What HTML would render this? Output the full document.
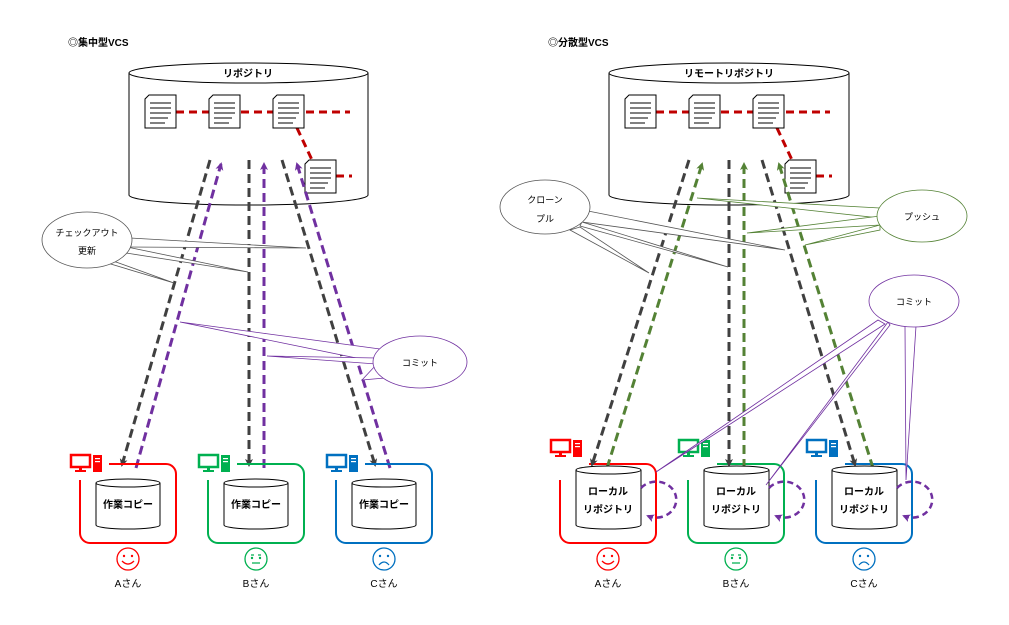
<!DOCTYPE html>
<html><head><meta charset="utf-8"><style>
html,body{margin:0;padding:0;background:#fff;}
svg{display:block;font-family:"Liberation Sans","Noto Sans CJK JP",sans-serif;}
</style></head><body>
<svg width="1009" height="625" viewBox="0 0 1009 625" xmlns="http://www.w3.org/2000/svg">
<defs>
<marker id="ak" markerWidth="8" markerHeight="8" refX="6" refY="4" orient="auto" markerUnits="userSpaceOnUse"><path d="M0,0 L8,4 L0,8 L2,4 z" fill="#404040"/></marker>
<marker id="ap" markerWidth="8" markerHeight="8" refX="6" refY="4" orient="auto" markerUnits="userSpaceOnUse"><path d="M0,0 L8,4 L0,8 L2,4 z" fill="#7030a0"/></marker>
<marker id="ag" markerWidth="8" markerHeight="8" refX="6" refY="4" orient="auto" markerUnits="userSpaceOnUse"><path d="M0,0 L8,4 L0,8 L2,4 z" fill="#548235"/></marker>
<g id="doc"><path d="M4,0 H31 V33 H0 V4 Z" fill="#fff" stroke="#000" stroke-width="1"/><path d="M5,8H26M5,13H26M5,18H26M5,23H23M5,28H20" stroke="#000" stroke-width="1"/></g>
<g id="pc"><rect x="0" y="0" width="19" height="12" fill="none" stroke="currentColor" stroke-width="2.5"/><rect x="8" y="12" width="3" height="3" fill="currentColor"/><rect x="4" y="15" width="11" height="2" fill="currentColor"/><rect x="22" y="0" width="9" height="17" fill="currentColor"/><rect x="24" y="3" width="5" height="1.2" fill="#fff"/><rect x="24" y="6" width="5" height="1.2" fill="#fff"/></g>
</defs>
<style>text{font-size:10px;fill:#000}.b{font-weight:bold}</style>

<!-- LEFT -->
<text x="68" y="46" class="b">◎集中型VCS</text>
<path d="M129,73 V195 A119.5,10 0 0 0 368,195 V73" fill="#fff" stroke="#000"/>
<ellipse cx="248.5" cy="73" rx="119.5" ry="10" fill="#fff" stroke="#000"/>
<text x="248" y="77" text-anchor="middle" class="b">リポジトリ</text>
<g stroke="#c00000" stroke-width="3" stroke-dasharray="8,5" fill="none">
<path d="M176,112H350"/><path d="M297,128L312,160"/><path d="M336,176H352"/></g>
<use href="#doc" x="145" y="95"/><use href="#doc" x="209" y="95"/><use href="#doc" x="273" y="95"/><use href="#doc" x="305" y="160"/>
<g stroke-width="3" stroke-dasharray="9,5" fill="none">
<path d="M210,160L122,465" stroke="#404040" marker-end="url(#ak)"/>
<path d="M136,468L221,164" stroke="#7030a0" marker-end="url(#ap)"/>
<path d="M249,160V465" stroke="#404040" marker-end="url(#ak)"/>
<path d="M264,468V164" stroke="#7030a0" marker-end="url(#ap)"/>
<path d="M282,160L375,465" stroke="#404040" marker-end="url(#ak)"/>
<path d="M390,468L297,164" stroke="#7030a0" marker-end="url(#ap)"/>
</g>
<!-- callouts left -->
<g fill="#fff" stroke="#555" stroke-width="0.8">
<path d="M130,238L306,248L126,247Z"/><path d="M127,247L248,272L126,253Z"/><path d="M116,262L174,283L104,262Z"/>
<ellipse cx="87" cy="240" rx="45" ry="28"/>
</g>
<text x="87" y="236" text-anchor="middle" style="font-size:9px">チェックアウト</text>
<text x="87" y="254" text-anchor="middle" style="font-size:9px">更新</text>
<g fill="#fff" stroke="#7030a0" stroke-width="0.8">
<path d="M380,349L180,322L376,362Z"/><path d="M376,358L267,356L376,364Z"/><path d="M376,365L362,380L385,378Z"/>
<ellipse cx="420" cy="362" rx="47" ry="26"/>
</g>
<text x="420" y="366" text-anchor="middle" style="font-size:9px">コミット</text>

<!-- user boxes generator -->
<g fill="none" stroke-width="2">
<path d="M109,464H166a10,10 0 0 1 10,10V533a10,10 0 0 1 -10,10H90a10,10 0 0 1 -10,-10V480" stroke="#ff0000"/>
<path d="M237,464H294a10,10 0 0 1 10,10V533a10,10 0 0 1 -10,10H218a10,10 0 0 1 -10,-10V480" stroke="#00b050"/>
<path d="M365,464H422a10,10 0 0 1 10,10V533a10,10 0 0 1 -10,10H346a10,10 0 0 1 -10,-10V480" stroke="#0070c0"/>
<path d="M589,464H646a10,10 0 0 1 10,10V533a10,10 0 0 1 -10,10H570a10,10 0 0 1 -10,-10V480" stroke="#ff0000"/>
<path d="M717,464H774a10,10 0 0 1 10,10V533a10,10 0 0 1 -10,10H698a10,10 0 0 1 -10,-10V480" stroke="#00b050"/>
<path d="M845,464H902a10,10 0 0 1 10,10V533a10,10 0 0 1 -10,10H826a10,10 0 0 1 -10,-10V480" stroke="#0070c0"/>
</g>
<use href="#pc" x="71" y="455" style="color:#ff0000"/>
<use href="#pc" x="199" y="455" style="color:#00b050"/>
<use href="#pc" x="327" y="455" style="color:#0070c0"/>
<use href="#pc" x="551" y="440" style="color:#ff0000"/>
<use href="#pc" x="679" y="440" style="color:#00b050"/>
<use href="#pc" x="807" y="440" style="color:#0070c0"/>

<!-- left cylinders -->
<g fill="#fff" stroke="#000">
<path d="M96,483V525A32,4 0 0 0 160,525V483"/><ellipse cx="128" cy="483" rx="32" ry="4"/>
<path d="M224,483V525A32,4 0 0 0 288,525V483"/><ellipse cx="256" cy="483" rx="32" ry="4"/>
<path d="M352,483V525A32,4 0 0 0 416,525V483"/><ellipse cx="384" cy="483" rx="32" ry="4"/>
</g>
<text x="128" y="508" text-anchor="middle" class="b">作業コピー</text>
<text x="256" y="508" text-anchor="middle" class="b">作業コピー</text>
<text x="384" y="508" text-anchor="middle" class="b">作業コピー</text>

<!-- faces -->
<g fill="none" stroke-width="1.3">
<g stroke="#ff0000"><circle cx="128" cy="559" r="11"/><path d="M122,561Q128,567 134,561"/></g>
<g stroke="#00b050"><circle cx="256" cy="559" r="11"/><path d="M251,555H254M258,555H261M252,563H260"/></g>
<g stroke="#0070c0"><circle cx="384" cy="559" r="11"/><path d="M379,565Q384,559 389,565"/></g>
<g stroke="#ff0000"><circle cx="608" cy="559" r="11"/><path d="M602,561Q608,567 614,561"/></g>
<g stroke="#00b050"><circle cx="736" cy="559" r="11"/><path d="M731,555H734M738,555H741M732,563H740"/></g>
<g stroke="#0070c0"><circle cx="864" cy="559" r="11"/><path d="M859,565Q864,559 869,565"/></g>
</g>
<g><circle cx="124" cy="556" r="1.2" fill="#f00"/><circle cx="132" cy="556" r="1.2" fill="#f00"/>
<circle cx="252" cy="558" r="1.2" fill="#00b050"/><circle cx="260" cy="558" r="1.2" fill="#00b050"/>
<circle cx="380" cy="556" r="1.2" fill="#0070c0"/><circle cx="388" cy="556" r="1.2" fill="#0070c0"/>
<circle cx="604" cy="556" r="1.2" fill="#f00"/><circle cx="612" cy="556" r="1.2" fill="#f00"/>
<circle cx="732" cy="558" r="1.2" fill="#00b050"/><circle cx="740" cy="558" r="1.2" fill="#00b050"/>
<circle cx="860" cy="556" r="1.2" fill="#0070c0"/><circle cx="868" cy="556" r="1.2" fill="#0070c0"/></g>
<text x="128" y="587" text-anchor="middle">Aさん</text>
<text x="256" y="587" text-anchor="middle">Bさん</text>
<text x="384" y="587" text-anchor="middle">Cさん</text>
<text x="608" y="587" text-anchor="middle">Aさん</text>
<text x="736" y="587" text-anchor="middle">Bさん</text>
<text x="864" y="587" text-anchor="middle">Cさん</text>

<!-- RIGHT -->
<text x="548" y="46" class="b">◎分散型VCS</text>
<path d="M609,73V195A120,10 0 0 0 849,195V73" fill="#fff" stroke="#000"/>
<ellipse cx="729" cy="73" rx="120" ry="10" fill="#fff" stroke="#000"/>
<text x="729" y="77" text-anchor="middle" class="b">リモートリポジトリ</text>
<g stroke="#c00000" stroke-width="3" stroke-dasharray="8,5" fill="none">
<path d="M656,112H830"/><path d="M777,128L792,160"/><path d="M816,176H832"/></g>
<use href="#doc" x="625" y="95"/><use href="#doc" x="689" y="95"/><use href="#doc" x="753" y="95"/><use href="#doc" x="785" y="160"/>
<g stroke-width="3" stroke-dasharray="9,5" fill="none">
<path d="M689,160L592,465" stroke="#404040" marker-end="url(#ak)"/>
<path d="M607,468L702,164" stroke="#548235" marker-end="url(#ag)"/>
<path d="M729,160V465" stroke="#404040" marker-end="url(#ak)"/>
<path d="M744,468V164" stroke="#548235" marker-end="url(#ag)"/>
<path d="M762,160L855,465" stroke="#404040" marker-end="url(#ak)"/>
<path d="M873,468L779,164" stroke="#548235" marker-end="url(#ag)"/>
</g>
<!-- right cylinders -->
<g fill="#fff" stroke="#000">
<path d="M576,470V525A32.5,4 0 0 0 641,525V470"/><ellipse cx="608.5" cy="470" rx="32.5" ry="4"/>
<path d="M704,470V525A32.5,4 0 0 0 769,525V470"/><ellipse cx="736.5" cy="470" rx="32.5" ry="4"/>
<path d="M832,470V525A32.5,4 0 0 0 897,525V470"/><ellipse cx="864.5" cy="470" rx="32.5" ry="4"/>
</g>
<text x="608" y="495" text-anchor="middle" class="b">ローカル</text><text x="608" y="513" text-anchor="middle" class="b">リポジトリ</text>
<text x="736" y="495" text-anchor="middle" class="b">ローカル</text><text x="736" y="513" text-anchor="middle" class="b">リポジトリ</text>
<text x="864" y="495" text-anchor="middle" class="b">ローカル</text><text x="864" y="513" text-anchor="middle" class="b">リポジトリ</text>
<!-- loops -->
<g fill="none" stroke="#7030a0" stroke-width="2.5" stroke-dasharray="6,4">
<path d="M641,488A20,18 0 1 1 648,516" marker-end="url(#ap)"/>
<path d="M769,488A20,18 0 1 1 776,516" marker-end="url(#ap)"/>
<path d="M897,488A20,18 0 1 1 904,516" marker-end="url(#ap)"/>
</g>
<!-- callouts right -->
<g fill="#fff" stroke="#555" stroke-width="0.8">
<path d="M588,211L785,250L582,222Z"/><path d="M582,222L728,267L580,226Z"/><path d="M570,230L649,273L580,227Z"/>
<ellipse cx="545" cy="207" rx="45" ry="27"/>
</g>
<text x="545" y="203" text-anchor="middle" style="font-size:9px">クローン</text>
<text x="545" y="222" text-anchor="middle" style="font-size:9px">プル</text>
<g fill="#fff" stroke="#548235" stroke-width="0.8">
<path d="M880,208L697,198L880,218Z"/><path d="M880,216L747,233L880,225Z"/><path d="M880,225L805,245L880,230Z"/>
<ellipse cx="922" cy="216" rx="45" ry="26"/>
</g>
<text x="922" y="220" text-anchor="middle" style="font-size:9px">プッシュ</text>
<g fill="#fff" stroke="#7030a0" stroke-width="0.8">
<path d="M878,320L656,472L885,324Z"/><path d="M888,322L766,485L890,325Z"/><path d="M905,326L906,480L916,326Z"/>
<ellipse cx="914" cy="301" rx="45" ry="26"/>
</g>
<text x="914" y="305" text-anchor="middle" style="font-size:9px">コミット</text>
</svg>
</body></html>
